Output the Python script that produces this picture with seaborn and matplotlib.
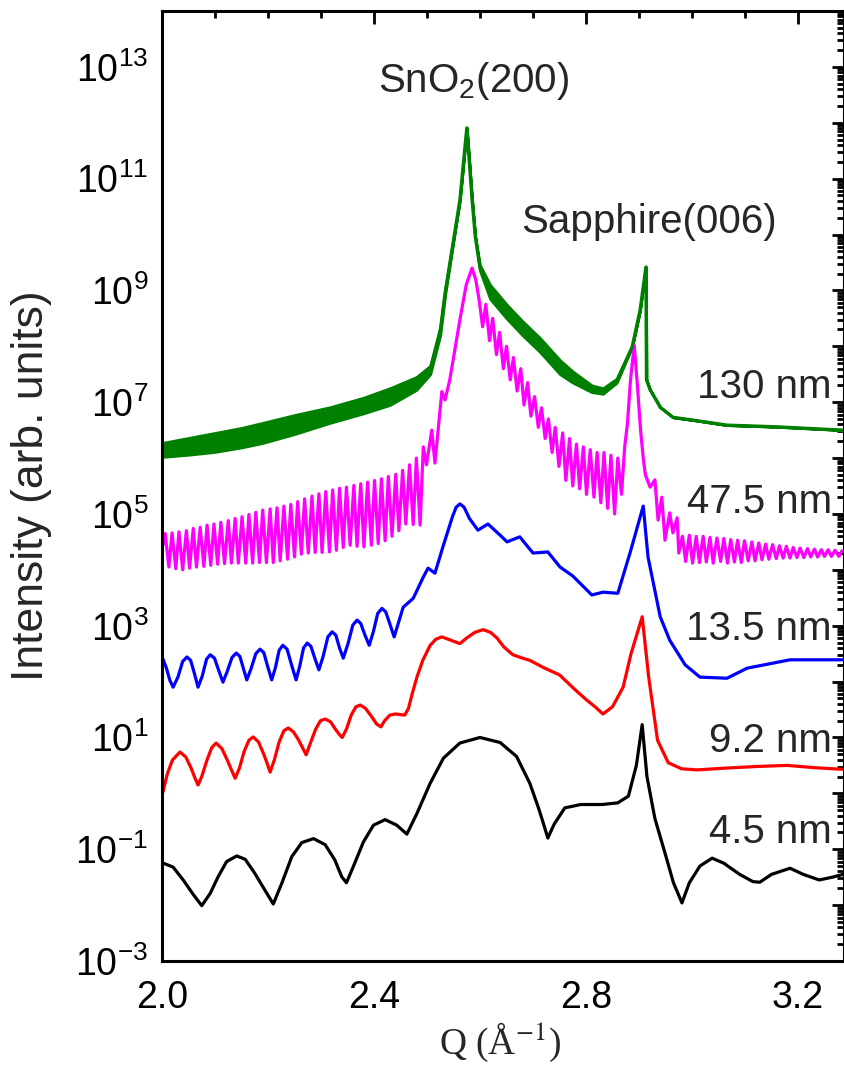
import numpy as np
import pandas as pd
import matplotlib
matplotlib.use("Agg")
import matplotlib.pyplot as plt
import matplotlib.ticker as mticker
import seaborn as sns

# ---------------- data (Q in 1/Angstrom, log10 intensity) ----------------
black_q = [2.0025, 2.021, 2.040, 2.059, 2.075, 2.091, 2.106, 2.122, 2.141, 2.157, 2.175, 2.194, 2.210,
           2.226, 2.245, 2.264, 2.286, 2.308, 2.326, 2.339, 2.348, 2.361, 2.380, 2.399, 2.421, 2.443,
           2.462, 2.481, 2.506, 2.531, 2.562, 2.600, 2.638, 2.669, 2.694, 2.710, 2.720, 2.728,
           2.740, 2.760, 2.790, 2.830, 2.860, 2.880, 2.895, 2.906, 2.915, 2.930, 2.950, 2.965,
           2.981, 2.995, 3.015, 3.038, 3.060, 3.090, 3.115, 3.128, 3.150, 3.185, 3.210, 3.240, 3.265, 3.285]
black_log = [-1.25, -1.32, -1.55, -1.81, -2.01, -1.79, -1.49, -1.22, -1.12, -1.18, -1.43, -1.73, -1.98,
             -1.61, -1.13, -0.88, -0.81, -0.92, -1.19, -1.49, -1.60, -1.31, -0.87, -0.57, -0.47, -0.57,
             -0.73, -0.36, 0.18, 0.63, 0.90, 1.00, 0.91, 0.66, 0.18, -0.25, -0.55, -0.80,
             -0.55, -0.26, -0.20, -0.20, -0.17, -0.05, 0.50, 1.23, 0.30, -0.45, -1.10, -1.60,
             -1.96, -1.60, -1.30, -1.16, -1.25, -1.45, -1.58, -1.59, -1.45, -1.34, -1.45, -1.55, -1.50, -1.45]

red_q = [2.002, 2.010, 2.020, 2.034, 2.045, 2.055, 2.062, 2.068, 2.075, 2.085, 2.094, 2.102, 2.113,
         2.123, 2.131, 2.138, 2.146, 2.155, 2.164, 2.172, 2.182, 2.192, 2.199, 2.204, 2.212, 2.221,
         2.230, 2.238, 2.248, 2.258, 2.266, 2.272, 2.280, 2.290, 2.299, 2.308, 2.318, 2.327, 2.335,
         2.340, 2.348, 2.357, 2.366, 2.374, 2.384, 2.395, 2.405, 2.413, 2.420, 2.430, 2.440, 2.450,
         2.458, 2.465, 2.472, 2.481, 2.492, 2.506, 2.517, 2.528, 2.545, 2.562, 2.575, 2.590, 2.606,
         2.620, 2.632, 2.645, 2.662, 2.680, 2.694, 2.720, 2.750, 2.780, 2.800, 2.817, 2.832, 2.850,
         2.870, 2.885, 2.906, 2.918, 2.935, 2.955, 2.980, 3.010, 3.060, 3.120, 3.180, 3.230, 3.285]
red_log = [0.03, 0.35, 0.60, 0.74, 0.65, 0.45, 0.28, 0.15, 0.30, 0.60, 0.82, 0.90, 0.80,
           0.60, 0.42, 0.27, 0.45, 0.75, 0.95, 1.01, 0.92, 0.70, 0.52, 0.38, 0.60, 0.92,
           1.12, 1.17, 1.10, 0.95, 0.80, 0.69, 0.90, 1.15, 1.30, 1.33, 1.28, 1.15, 1.05,
           1.00, 1.15, 1.40, 1.55, 1.58, 1.52, 1.38, 1.24, 1.19, 1.30, 1.40, 1.42, 1.41,
           1.40, 1.52, 1.78, 2.08, 2.38, 2.65, 2.76, 2.80, 2.74, 2.68, 2.78, 2.88, 2.93,
           2.88, 2.78, 2.62, 2.48, 2.42, 2.38, 2.25, 2.12, 1.85, 1.68, 1.55, 1.42, 1.55,
           1.90, 2.50, 3.16, 2.10, 0.95, 0.55, 0.44, 0.42, 0.45, 0.48, 0.50, 0.46, 0.43]

blue_q = [2.002, 2.008, 2.015, 2.021, 2.030, 2.039, 2.047, 2.054, 2.061, 2.068, 2.076, 2.084, 2.091,
          2.099, 2.107, 2.115, 2.123, 2.132, 2.140, 2.147, 2.154, 2.160, 2.168, 2.177, 2.185, 2.192,
          2.200, 2.207, 2.214, 2.221, 2.228, 2.236, 2.245, 2.253, 2.260, 2.267, 2.274, 2.281, 2.289,
          2.296, 2.304, 2.313, 2.321, 2.328, 2.335, 2.342, 2.351, 2.360, 2.368, 2.375, 2.383, 2.391,
          2.399, 2.407, 2.415, 2.422, 2.430, 2.438, 2.455, 2.474, 2.493, 2.502, 2.515, 2.530, 2.548,
          2.555, 2.562, 2.570, 2.580, 2.596, 2.615, 2.638, 2.651, 2.675, 2.700, 2.728, 2.751, 2.775,
          2.811, 2.832, 2.860, 2.883, 2.908, 2.917, 2.940, 2.958, 2.987, 3.015, 3.066, 3.104, 3.185, 3.285]
blue_log = [2.40, 2.25, 2.02, 1.90, 2.08, 2.36, 2.44, 2.38, 2.15, 1.90, 2.10, 2.40, 2.48,
            2.42, 2.20, 1.99, 2.18, 2.43, 2.51, 2.45, 2.22, 2.03, 2.23, 2.50, 2.58, 2.52,
            2.25, 2.03, 2.25, 2.56, 2.65, 2.58, 2.28, 2.03, 2.28, 2.60, 2.69, 2.63, 2.40,
            2.21, 2.45, 2.80, 2.89, 2.83, 2.60, 2.42, 2.68, 3.01, 3.10, 3.04, 2.83, 2.65,
            2.90, 3.22, 3.31, 3.25, 3.03, 2.80, 3.33, 3.49, 3.87, 4.03, 3.94, 4.41, 4.95,
            5.12, 5.18, 5.12, 4.92, 4.71, 4.82, 4.62, 4.50, 4.59, 4.30, 4.32, 4.05, 3.89,
            3.55, 3.60, 3.58, 4.30, 5.14, 4.23, 3.16, 2.74, 2.30, 2.08, 2.06, 2.24, 2.39, 2.39]

magenta_q = [2.002, 2.006, 2.013, 2.019, 2.026, 2.032, 2.039, 2.046, 2.052, 2.059, 2.065, 2.072, 2.079,
             2.085, 2.092, 2.098, 2.105, 2.111, 2.118, 2.125, 2.131, 2.138, 2.144, 2.151, 2.158,
             2.164, 2.171, 2.177, 2.184, 2.190, 2.197, 2.204, 2.210, 2.217, 2.223, 2.230, 2.237,
             2.243, 2.250, 2.256, 2.263, 2.269, 2.276, 2.283, 2.289, 2.296, 2.302, 2.309, 2.316,
             2.322, 2.329, 2.335, 2.342, 2.348, 2.355, 2.362, 2.368, 2.375, 2.381, 2.388, 2.395,
             2.401, 2.408, 2.414, 2.421, 2.427, 2.434, 2.441, 2.447, 2.454, 2.460, 2.467, 2.474,
             2.480, 2.487,
             2.493, 2.499, 2.509, 2.515, 2.528, 2.534, 2.543, 2.562, 2.574, 2.585, 2.592,
             2.598, 2.605, 2.611, 2.618, 2.624, 2.631, 2.637, 2.644, 2.650, 2.657, 2.663, 2.670,
             2.677, 2.683, 2.690, 2.696, 2.703, 2.710, 2.716, 2.723, 2.729, 2.736, 2.742, 2.749,
             2.756, 2.762, 2.769, 2.775, 2.782, 2.788, 2.795, 2.801, 2.808, 2.815, 2.821, 2.828,
             2.834, 2.841, 2.847, 2.854, 2.860, 2.867, 2.873, 2.878, 2.884, 2.891, 2.897, 2.903,
             2.908, 2.912, 2.921, 2.930, 2.936, 2.943, 2.949, 2.958, 2.964, 2.972, 2.975,
             2.982, 2.988, 2.995, 3.001, 3.008, 3.014, 3.021, 3.027, 3.034, 3.040, 3.047, 3.054,
             3.060, 3.067, 3.073, 3.080, 3.086, 3.093, 3.099, 3.106, 3.113, 3.119, 3.126, 3.132,
             3.139, 3.145, 3.152, 3.159, 3.165, 3.172, 3.178, 3.185, 3.191, 3.198, 3.204, 3.211,
             3.218, 3.224, 3.231, 3.237, 3.244, 3.250, 3.257, 3.263, 3.270, 3.277, 3.283]
magenta_log = [4.45, 4.65, 4.05, 4.66, 4.02, 4.68, 4.00, 4.70, 4.03, 4.74, 4.05, 4.76, 4.06,
               4.80, 4.08, 4.82, 4.10, 4.85, 4.11, 4.88, 4.12, 4.92, 4.12, 4.95, 4.12,
               4.99, 4.12, 5.03, 4.13, 5.07, 4.13, 5.09, 4.13, 5.11, 4.16, 5.14, 4.19,
               5.17, 4.23, 5.22, 4.28, 5.27, 4.30, 5.32, 4.31, 5.36, 4.31, 5.40, 4.32,
               5.43, 4.35, 5.46, 4.40, 5.48, 4.44, 5.51, 4.42, 5.54, 4.41, 5.57, 4.44,
               5.60, 4.47, 5.63, 4.52, 5.67, 4.60, 5.71, 4.70, 5.78, 4.82, 5.88, 4.81,
               6.00, 4.80,
               6.20, 5.88, 6.50, 5.91, 7.19, 7.04, 7.40, 8.47, 9.10, 9.40, 9.19,
               8.85, 8.35, 8.75, 8.10, 8.50, 7.85, 8.25, 7.60, 8.00, 7.40, 7.80, 7.20,
               7.60, 6.95, 7.35, 6.75, 7.10, 6.55, 6.90, 6.35, 6.70, 6.10, 6.55, 5.85,
               6.45, 5.60, 6.35, 5.50, 6.25, 5.45, 6.20, 5.35, 6.15, 5.30, 6.10, 5.20,
               6.10, 5.10, 6.05, 5.00, 6.00, 5.35, 6.20, 6.60, 7.40, 8.02, 7.30, 6.50,
               6.00, 5.70, 5.48, 5.61, 4.89, 5.30, 4.53, 5.02, 4.66, 4.93, 4.30,
               4.60, 4.15, 4.62, 4.12, 4.60, 4.13, 4.60, 4.14, 4.58, 4.12, 4.57, 4.15,
               4.56, 4.12, 4.54, 4.14, 4.53, 4.13, 4.52, 4.16, 4.50, 4.16, 4.48, 4.18,
               4.46, 4.19, 4.45, 4.20, 4.43, 4.21, 4.42, 4.21, 4.40, 4.22, 4.39, 4.22,
               4.38, 4.23, 4.37, 4.23, 4.36, 4.24, 4.36, 4.24, 4.35, 4.24, 4.34]

green_q = [2.000, 2.050, 2.100, 2.150, 2.190, 2.250, 2.317, 2.380, 2.430, 2.480, 2.506, 2.525, 2.534,
           2.547, 2.562, 2.575, 2.585, 2.591, 2.600, 2.619, 2.650, 2.680, 2.713, 2.751, 2.775, 2.811,
           2.832, 2.858, 2.887, 2.902, 2.913, 2.914, 2.921, 2.940, 2.964, 3.002, 3.066, 3.160, 3.285]
green_lo = [6.02, 6.06, 6.11, 6.19, 6.27, 6.43, 6.63, 6.80, 6.95, 7.22, 7.50, 8.20, 8.90,
            9.70, 10.62, 11.91, 10.62, 9.96, 9.35, 8.85, 8.50, 8.20, 7.90, 7.50, 7.35, 7.18,
            7.15, 7.35, 7.99, 8.65, 9.42, 7.40, 7.22, 6.91, 6.73, 6.68, 6.59, 6.56, 6.50]
green_hi = [6.27, 6.36, 6.45, 6.54, 6.63, 6.77, 6.91, 7.08, 7.25, 7.45, 7.65, 8.35, 9.00,
            9.75, 10.62, 11.91, 10.62, 9.96, 9.45, 9.10, 8.75, 8.45, 8.15, 7.75, 7.55, 7.30,
            7.25, 7.42, 7.99, 8.65, 9.42, 7.40, 7.22, 6.91, 6.73, 6.68, 6.59, 6.56, 6.50]

samples = ["4.5 nm", "9.2 nm", "13.5 nm", "47.5 nm", "130 nm"]
colors = ["#000000", "#ff0000", "#0000ff", "#ff00ff", "#008000"]
label_q = [3.264, 3.264, 3.264, 3.264, 3.264]
label_log = [-0.89, 0.74, 2.74, 5.02, 7.07]

# ---------------- assemble ----------------
frames = []
for name, q, lg in [("4.5 nm", black_q, black_log), ("9.2 nm", red_q, red_log),
                    ("13.5 nm", blue_q, blue_log), ("47.5 nm", magenta_q, magenta_log)]:
    frames.append(pd.DataFrame({"Q": q, "I": 10.0 ** np.asarray(lg), "sample": name}))
g_mid = (np.asarray(green_lo) + np.asarray(green_hi)) / 2
frames.append(pd.DataFrame({"Q": green_q, "I": 10.0 ** g_mid, "sample": "130 nm"}))
df = pd.concat(frames, ignore_index=True)

sns.set_theme(style="white")
plt.rcParams["font.family"] = ["Liberation Sans", "DejaVu Sans"]
plt.rcParams["mathtext.fontset"] = "custom"
plt.rcParams["mathtext.rm"] = "Liberation Sans"
plt.rcParams["mathtext.it"] = "Liberation Sans:italic"
plt.rcParams["mathtext.bf"] = "Liberation Sans:bold"

W, H = 844, 1066
fig = plt.figure(figsize=(W / 100, H / 100), dpi=100)
ax = fig.add_axes([162 / W, (H - 961) / H, 681.5 / W, 950 / H])

sns.lineplot(data=df, x="Q", y="I", hue="sample", hue_order=samples,
             palette=dict(zip(samples, colors)), sort=False, estimator=None,
             legend=False, lw=2.3, ax=ax)
ax.fill_between(green_q, 10.0 ** np.asarray(green_lo), 10.0 ** np.asarray(green_hi),
                color="#008000", lw=2.0, edgecolor="#008000")

ax.set_yscale("log")
ax.set_xlim(2.0, 2.0 + 681.5 / 530)
ax.set_ylim(1e-3, 1e14)

ax.yaxis.set_major_locator(mticker.LogLocator(base=10, numticks=40))
ax.yaxis.set_minor_locator(mticker.LogLocator(base=10, subs=np.arange(2, 10), numticks=200))
ax.yaxis.set_minor_formatter(mticker.NullFormatter())


def yfmt(v, _):
    e = int(round(np.log10(v)))
    return r"$\mathregular{10^{%d}}$" % e if e % 2 != 0 else ""


ax.yaxis.set_major_formatter(mticker.FuncFormatter(yfmt))
ax.xaxis.set_major_locator(mticker.FixedLocator([2.0, 2.4, 2.8, 3.2]))
ax.xaxis.set_major_formatter(mticker.FixedFormatter(["2.0", "2.4", "2.8", "3.2"]))
ax.xaxis.set_minor_locator(mticker.MultipleLocator(0.1))

ax.tick_params(which="both", direction="in", top=True, right=True, width=2.0, colors="black")
ax.tick_params(which="major", length=9)
ax.tick_params(which="minor", length=5)
ax.tick_params(axis="y", which="major", labelsize=27, pad=10)
ax.tick_params(axis="x", which="major", labelsize=27, pad=14)
for s in ax.spines.values():
    s.set_linewidth(2.2)
    s.set_color("black")

ax.set_ylabel("Intensity (arb. units)", fontsize=32)
ax.yaxis.set_label_coords(-0.162, 0.5)
ax.set_xlabel(r"Q (Å$^{-1}$)", fontsize=27, fontfamily="Liberation Serif",
              math_fontfamily="stix")
ax.xaxis.set_label_coords(0.496, -0.062)

for name, q, lg in zip(samples, label_q, label_log):
    ax.text(q, 10 ** lg, name, fontsize=29, ha="right", va="baseline")
ax.text(2.587, 10 ** 12.55, r"SnO$_\mathregular{2}$(200)", fontsize=29, ha="center", va="baseline")
ax.text(2.919, 10 ** 10.03, "Sapphire(006)", fontsize=29, ha="center", va="baseline")

fig.savefig("out.png", dpi=100)
